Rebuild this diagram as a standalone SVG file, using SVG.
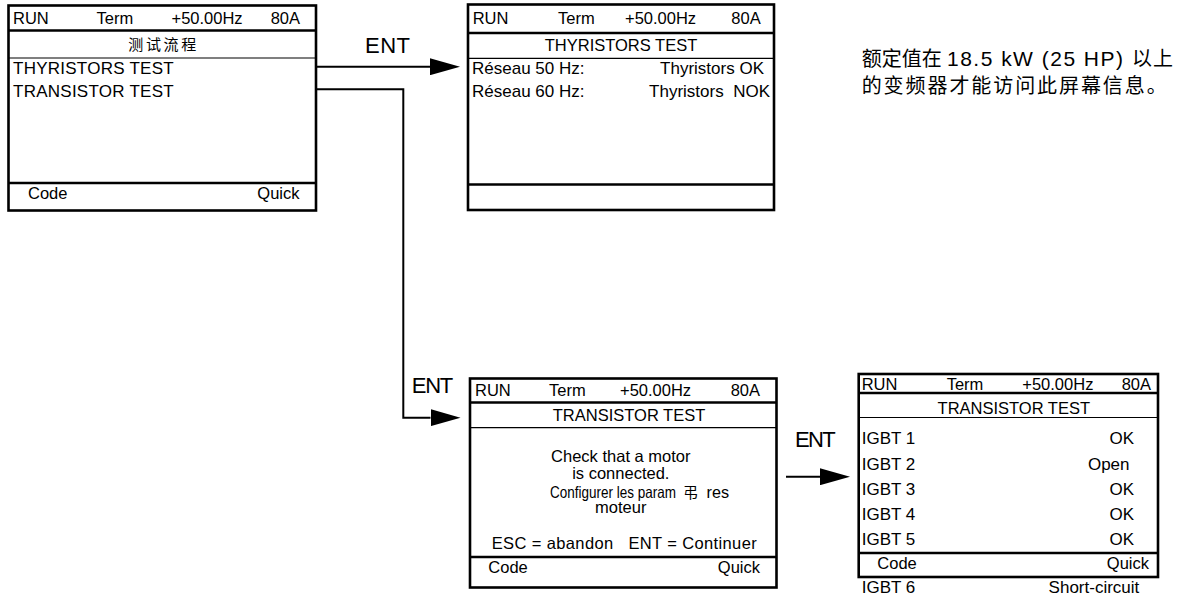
<svg xmlns="http://www.w3.org/2000/svg" width="1178" height="603" viewBox="0 0 1178 603">
<style>
  text { font-family: "Liberation Sans", "Noto Sans CJK SC", sans-serif; fill: #000; }
  .hd { font-size: 16.5px; }
  .bd { font-size: 17px; }
  .bd3 { font-size: 16.5px; }
  .ttl { font-size: 16.5px; text-anchor: middle; }
  .end { text-anchor: end; }
  .mid { text-anchor: middle; }
  .ent { font-size: 22px; }
  .cjk { font-family: "Noto Sans CJK SC", sans-serif; }
  .note { font-size: 20px; }
  .frame { fill: #fff; stroke: #000; stroke-width: 2.6; }
  .sep { stroke: #000; stroke-width: 2.6; fill: none; }
  .thin { stroke: #000; stroke-width: 1.2; fill: none; }
  .conn { stroke: #000; stroke-width: 2; fill: none; }
  .pre { white-space: pre; }
</style>
<defs>
  <marker id="arr" viewBox="0 0 30 17" refX="0" refY="8.5" markerWidth="30" markerHeight="17" markerUnits="userSpaceOnUse" orient="auto">
    <path d="M0,0 L30,8.5 L0,17 Z" fill="#000"/>
  </marker>
</defs>
<rect width="1178" height="603" fill="#fff"/>

<g id="connectors">
  <path class="conn" d="M317,66.7 H430" marker-end="url(#arr)"/>
  <path class="conn" d="M317,89.3 H403.3 V417.7 H430.5" marker-end="url(#arr)"/>
  <path class="conn" d="M786,476.7 H820" marker-end="url(#arr)"/>
  <text class="ent" x="365" y="53.3" textLength="45">ENT</text>
  <text class="ent" x="411.7" y="392.7" textLength="41.6">ENT</text>
  <text class="ent" x="795" y="447.3" textLength="40.7">ENT</text>
</g>

<g id="screen-menu">
  <rect class="frame" x="8.5" y="5.5" width="307.5" height="205"/>
  <line class="sep" x1="8.5" y1="30.5" x2="316" y2="30.5"/>
  <line class="thin" x1="8.5" y1="58" x2="316" y2="58"/>
  <line class="sep" x1="8.5" y1="183" x2="316" y2="183"/>
  <text class="hd" x="13" y="24">RUN</text>
  <text class="hd" x="96.5" y="24">Term</text>
  <text class="hd" x="171.5" y="24">+50.00Hz</text>
  <text class="hd end" x="300" y="24">80A</text>
  <text class="cjk" x="128.3" y="50" font-size="15" textLength="68">测试流程</text>
  <text class="bd" x="13" y="74" textLength="160.7">THYRISTORS TEST</text>
  <text class="bd" x="13" y="97.3" textLength="160.7">TRANSISTOR TEST</text>
  <text class="hd" x="28" y="199">Code</text>
  <text class="hd end" x="299.5" y="199">Quick</text>
</g>

<g id="screen-thyristors">
  <rect class="frame" x="468" y="4.5" width="306" height="205.5"/>
  <line class="sep" x1="468" y1="33" x2="774" y2="33"/>
  <line class="thin" x1="468" y1="58.3" x2="774" y2="58.3"/>
  <line class="sep" x1="468" y1="184.5" x2="774" y2="184.5"/>
  <text class="hd" x="472.7" y="24">RUN</text>
  <text class="hd" x="558" y="24">Term</text>
  <text class="hd" x="625" y="24">+50.00Hz</text>
  <text class="hd end" x="760.7" y="24">80A</text>
  <text class="ttl" x="621" y="50.7">THYRISTORS TEST</text>
  <text class="bd" x="472" y="74">Réseau 50 Hz:</text>
  <text class="bd end" x="764" y="74">Thyristors OK</text>
  <text class="bd" x="472" y="97.3">Réseau 60 Hz:</text>
  <text class="bd end pre" x="770" y="97.3">Thyristors  NOK</text>
</g>

<g id="note">
  <text class="note" x="861.7" y="66"><tspan x="861.7" textLength="80">额定值在</tspan><tspan x="947" font-size="21" textLength="176">18.5 kW (25 HP)</tspan><tspan x="1132" textLength="41">以上</tspan></text>
  <text class="note" x="861.7" y="93.3" textLength="305">的变频器才能访问此屏幕信息。</text>
</g>

<g id="screen-transistor-check">
  <rect class="frame" x="470" y="378.5" width="306.5" height="209"/>
  <line class="sep" x1="470" y1="402.5" x2="776.5" y2="402.5"/>
  <line class="thin" x1="470" y1="427.7" x2="776.5" y2="427.7"/>
  <line class="sep" x1="470" y1="557" x2="776.5" y2="557"/>
  <text class="hd" x="475" y="396">RUN</text>
  <text class="hd" x="549" y="396">Term</text>
  <text class="hd" x="620" y="396">+50.00Hz</text>
  <text class="hd end" x="760" y="396">80A</text>
  <text class="ttl" x="629" y="420.5" font-size="16">TRANSISTOR TEST</text>
  <text class="bd3 mid" x="620.8" y="461.5">Check that a motor</text>
  <text class="bd3 mid" x="620.8" y="478.5">is connected.</text>
  <text class="bd3" x="550" y="498" textLength="126" lengthAdjust="spacingAndGlyphs">Configurer les param</text>
  <text class="cjk" x="683" y="498" font-size="15">弔</text>
  <text class="bd3" x="706.5" y="498" textLength="22.5" lengthAdjust="spacingAndGlyphs">res</text>
  <text class="bd3 mid" x="620.8" y="513">moteur</text>
  <text class="bd3 pre" x="491.7" y="548.5" textLength="265">ESC = abandon   ENT = Continuer</text>
  <text class="hd" x="488.3" y="573">Code</text>
  <text class="hd end" x="760" y="573">Quick</text>
</g>

<g id="screen-transistor-result">
  <rect class="frame" x="858.7" y="374" width="299.3" height="203"/>
  <line class="sep" x1="858.7" y1="393" x2="1158" y2="393"/>
  <line class="thin" x1="858.7" y1="417.5" x2="1158" y2="417.5"/>
  <line class="sep" x1="858.7" y1="553" x2="1158" y2="553"/>
  <text class="hd" x="861.7" y="390" font-size="16">RUN</text>
  <text class="hd" x="946.7" y="390" font-size="16">Term</text>
  <text class="hd" x="1022.3" y="390" font-size="16">+50.00Hz</text>
  <text class="hd end" x="1151" y="390" font-size="16">80A</text>
  <text class="ttl" x="1013.8" y="413.5">TRANSISTOR TEST</text>
  <text class="bd" x="861.7" y="444">IGBT 1</text>
  <text class="bd end" x="1134" y="444">OK</text>
  <text class="bd" x="861.7" y="470">IGBT 2</text>
  <text class="bd end" x="1129.5" y="470">Open</text>
  <text class="bd" x="861.7" y="495">IGBT 3</text>
  <text class="bd end" x="1134" y="495">OK</text>
  <text class="bd" x="861.7" y="520">IGBT 4</text>
  <text class="bd end" x="1134" y="520">OK</text>
  <text class="bd" x="861.7" y="545">IGBT 5</text>
  <text class="bd end" x="1134" y="545">OK</text>
  <text class="hd" x="877.3" y="568.5">Code</text>
  <text class="hd end" x="1149" y="568.5">Quick</text>
  <text class="bd" x="861.7" y="593.3">IGBT 6</text>
  <text class="bd end" x="1139.3" y="593.3">Short-circuit</text>
</g>
</svg>
